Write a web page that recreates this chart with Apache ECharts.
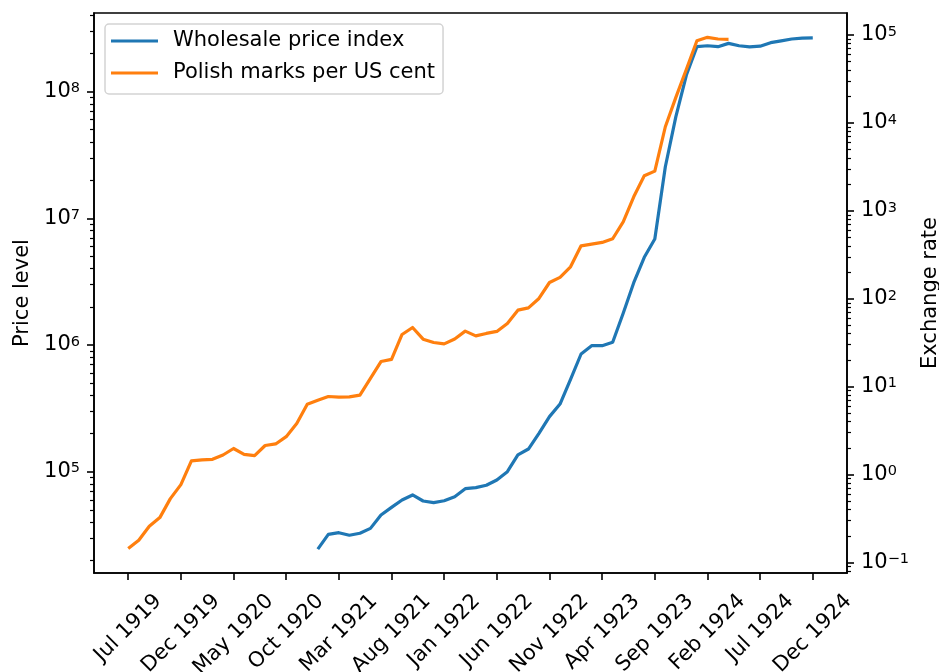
<!DOCTYPE html>
<html>
<head>
<meta charset="utf-8">
<script src="https://cdn.jsdelivr.net/npm/echarts@6/dist/echarts.min.js"></script>
<style>
html,body{margin:0;padding:0;background:#fff;}
#chart{width:939px;height:672px;}
</style>
</head>
<body>
<div id="chart"></div>
<script>
// Months: index 0 = Jul 1919 ... index 65 = Dec 1924
const tickMonths = [0, 5, 10, 15, 20, 25, 30, 35, 40, 45, 50, 55, 60, 65];
const tickLabels = ['Jul 1919', 'Dec 1919', 'May 1920', 'Oct 1920', 'Mar 1921', 'Aug 1921', 'Jan 1922',
  'Jun 1922', 'Nov 1922', 'Apr 1923', 'Sep 1923', 'Feb 1924', 'Jul 1924', 'Dec 1924'];

// Wholesale price index (left axis), starts Jan 1921 (index 18)
const wpiStart = 18;
const wpi = [24500, 32000, 33000, 31500, 32700, 35700, 45500, 52300, 59800, 65500,
  58700, 57000, 59000, 63500, 73400, 74800, 78100, 86000, 100000, 135500,
  151000, 201000, 272000, 342000, 536000, 849000, 987000, 987000, 1050000, 1780000,
  3100000, 4920000, 6870000, 25500000, 63400000, 135000000, 226000000, 230000000, 226000000, 240000000,
  230000000, 225000000, 228000000, 243000000, 251000000, 260000000, 264000000, 265000000];

// Polish marks per US cent (right axis), starts Jul 1919 (index 0)
const fxStart = 0;
const fx = [0.144, 0.179, 0.258, 0.324, 0.533, 0.769, 1.43, 1.47, 1.49, 1.67,
  1.98, 1.70, 1.64, 2.14, 2.23, 2.70, 3.80, 6.31, 7.02, 7.73,
  7.59, 7.64, 8.00, 12.4, 19.3, 20.4, 39.2, 47.1, 34.7, 31.8,
  30.7, 34.9, 42.8, 37.8, 40.3, 42.5, 52.3, 74.1, 78.7, 100.7,
  153, 175, 231, 400, 418, 437, 481, 750, 1445, 2505,
  2830, 9040, 19500, 40700, 86000, 94100, 90000, 89300];

const leftTicks = [1e5, 1e6, 1e7, 1e8];
const rightTicks = [1e-1, 1, 1e1, 1e2, 1e3, 1e4, 1e5];

const FONT = 'DejaVu Sans';
const FS = 21;

// measure label widths for matplotlib-like centred rotated labels
const cv = document.createElement('canvas').getContext('2d');
cv.font = FS + 'px "' + FONT + '"';
const rich = {};
tickLabels.forEach(function (t, k) {
  const w = cv.measureText(t).width;
  rich['x' + k] = { fontSize: FS, fontFamily: FONT, color: '#000', lineHeight: 21, padding: [w * 0.5, w * 0.5, 0, 0] };
});

const powRich = {
  b: { fontSize: FS, fontFamily: FONT, color: '#000', lineHeight: 21 },
  s: { fontSize: 14.5, fontFamily: FONT, color: '#000', lineHeight: 15, verticalAlign: 'top', padding: [0, 0, 2, 0] }
};
function powLabel(v) {
  const e = Math.round(Math.log10(v));
  return '{b|10}{s|' + (e < 0 ? '\u2212' + (-e) : e) + '}';
}

const chart = echarts.init(document.getElementById('chart'), null, { renderer: 'canvas' });
const axisLine = { show: true, onZero: false, lineStyle: { color: '#000', width: 1.6 } };
const majorTick = { show: true, inside: false, length: 7, lineStyle: { color: '#000', width: 1.6 } };
const minorTick = { show: true, splitNumber: 9, length: 4, lineStyle: { color: '#000', width: 1.2 } };

// three overlaid x axes share the scale; each carries every third tick label
function makeX(g) {
  const vals = tickMonths.filter(function (m, k) { return k % 3 === g; });
  return {
    type: 'value', min: -3.25, max: 68.25, position: 'bottom', offset: 0,
    axisLine: g === 0 ? axisLine : { show: false, onZero: false },
    axisTick: g === 0 ? Object.assign({}, majorTick, { customValues: tickMonths }) : { show: false },
    splitLine: { show: false },
    axisLabel: {
      customValues: vals, rotate: 45, align: 'center', verticalAlign: 'middle', margin: 25,
      showMinLabel: true, showMaxLabel: true,
      formatter: function (v) { const k = tickMonths.indexOf(Math.round(v)); return k < 0 ? '' : '{x' + k + '|' + tickLabels[k] + '}'; },
      rich: rich
    }
  };
}

chart.setOption({
  animation: false,
  backgroundColor: '#fff',
  textStyle: { fontFamily: FONT },
  grid: { left: 94, right: 92, top: 13, bottom: 99, containLabel: false, outerBoundsMode: 'none',
    show: true, borderColor: '#000', borderWidth: 1.6, backgroundColor: 'transparent' },
  legend: {
    left: 105, top: 24, orient: 'vertical',
    padding: [6, 8, 10, 6], itemGap: 10, itemWidth: 47, itemHeight: 3, icon: 'rect',
    backgroundColor: 'rgba(255,255,255,0.8)', borderColor: '#d3d3d3', borderWidth: 1.5, borderRadius: 4,
    textStyle: { fontSize: FS, fontFamily: FONT, color: '#000', lineHeight: 22, padding: [0, 0, 0, 10] },
    data: ['Wholesale price index', 'Polish marks per US cent']
  },
  xAxis: [makeX(0), makeX(1), makeX(2)],
  yAxis: [{
    type: 'log', logBase: 10, position: 'left',
    min: Math.pow(10, 4.2005), max: Math.pow(10, 8.620),
    name: 'Price level', nameLocation: 'middle', nameGap: 60,
    nameTextStyle: { fontSize: FS, fontFamily: FONT, color: '#000' },
    axisLine: axisLine,
    axisTick: Object.assign({}, majorTick, { customValues: leftTicks }),
    minorTick: minorTick,
    splitLine: { show: false }, minorSplitLine: { show: false },
    axisLabel: { customValues: leftTicks, margin: 14, showMinLabel: true, showMaxLabel: true, formatter: powLabel, rich: powRich }
  }, {
    type: 'log', logBase: 10, position: 'right',
    min: Math.pow(10, -1.1195), max: Math.pow(10, 5.25),
    name: 'Exchange rate', nameLocation: 'middle', nameGap: 70,
    nameTextStyle: { fontSize: FS, fontFamily: FONT, color: '#000' },
    axisLine: axisLine,
    axisTick: Object.assign({}, majorTick, { customValues: rightTicks }),
    minorTick: minorTick,
    splitLine: { show: false }, minorSplitLine: { show: false },
    axisLabel: { customValues: rightTicks, margin: 14, showMinLabel: true, showMaxLabel: true, formatter: powLabel, rich: powRich }
  }],
  series: [{
    name: 'Wholesale price index', type: 'line', xAxisIndex: 0, yAxisIndex: 0,
    showSymbol: false, symbol: 'none', color: '#1f77b4',
    lineStyle: { width: 3.2, color: '#1f77b4', cap: 'butt', join: 'round' },
    data: wpi.map(function (v, i) { return [wpiStart + i, v]; })
  }, {
    name: 'Polish marks per US cent', type: 'line', xAxisIndex: 0, yAxisIndex: 1,
    showSymbol: false, symbol: 'none', color: '#ff7f0e',
    lineStyle: { width: 3.2, color: '#ff7f0e', cap: 'butt', join: 'round' },
    data: fx.map(function (v, i) { return [fxStart + i, v]; })
  }]
});
</script>
</body>
</html>
